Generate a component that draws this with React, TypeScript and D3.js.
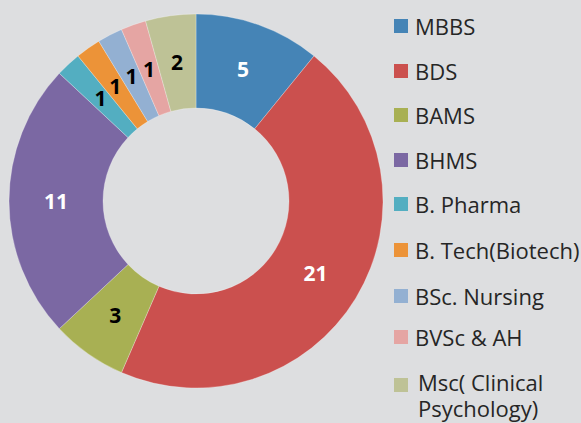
import React from "react";
import * as d3 from "d3";

const categories = [
  "MBBS",
  "BDS",
  "BAMS",
  "BHMS",
  "B. Pharma",
  "B. Tech(Biotech)",
  "BSc. Nursing",
  "BVSc & AH",
  "Msc( Clinical Psychology)",
];
const values = [5, 21, 3, 11, 1, 1, 1, 1, 2];
const colors = [
  "#4584b6",
  "#cb504e",
  "#a8b053",
  "#7b68a3",
  "#53aec1",
  "#ec9338",
  "#93b0d2",
  "#e5a5a3",
  "#bec296",
];
const labelColors = ["#ffffff", "#ffffff", "#000000", "#ffffff", "#000000", "#000000", "#000000", "#000000", "#000000"];
const legendLines = [
  ["MBBS"],
  ["BDS"],
  ["BAMS"],
  ["BHMS"],
  ["B. Pharma"],
  ["B. Tech(Biotech)"],
  ["BSc. Nursing"],
  ["BVSc & AH"],
  ["Msc( Clinical", "Psychology)"],
];
// legend layout (square top positions)
const legendTops = [19, 64, 108, 153, 197, 243, 289, 330, 378];

const W = 581;
const H = 423;
const cx = 196;
const cy = 201;
const outerR = 187;
const innerR = 93;
const labelR = 140;

export default function App() {
  const data = categories.map((c, i) => ({ name: c, value: values[i], i }));
  const pie = d3
    .pie<any>()
    .value((d) => d.value)
    .sort(null)
    .startAngle(0)
    .endAngle(2 * Math.PI);
  const arcs = pie(data);
  const arc = d3.arc<any>().innerRadius(innerR).outerRadius(outerR);
  const labelArc = d3.arc<any>().innerRadius(labelR).outerRadius(labelR);
  const font = "'Open Sans', 'Noto Sans', sans-serif";

  return (
    <svg
      width={W}
      height={H}
      style={{ position: "absolute", left: 0, top: 0, display: "block" }}
    >
      <rect x={0} y={0} width={W} height={H} fill="#dddee0" />
      <g transform={`translate(${cx},${cy})`}>
        {arcs.map((a, i) => (
          <path
            key={i}
            d={arc(a) as string}
            fill={colors[i]}
            stroke="rgba(255,255,255,0.45)"
            strokeWidth={0.6}
          />
        ))}
        {arcs.map((a, i) => {
          const [x, y] = labelArc.centroid(a);
          return (
            <text
              key={"l" + i}
              x={x}
              y={y}
              dy="0.36em"
              textAnchor="middle"
              fontFamily={font}
              fontWeight={700}
              fontSize={21}
              fill={labelColors[i]}
            >
              {values[i]}
            </text>
          );
        })}
      </g>
      <g>
        {legendLines.map((lines, i) => {
          const top = legendTops[i];
          const multi = lines.length > 1;
          return (
            <g key={"lg" + i}>
              <rect x={394} y={top} width={14} height={14} fill={colors[i]} />
              {lines.map((t, j) => (
                <text
                  key={j}
                  x={multi ? 418 : 415}
                  y={multi ? top + 13 + j * 26 : top + 16}
                  fontFamily={font}
                  fontSize={22}
                  fill="#262626"
                >
                  {t}
                </text>
              ))}
            </g>
          );
        })}
      </g>
    </svg>
  );
}
